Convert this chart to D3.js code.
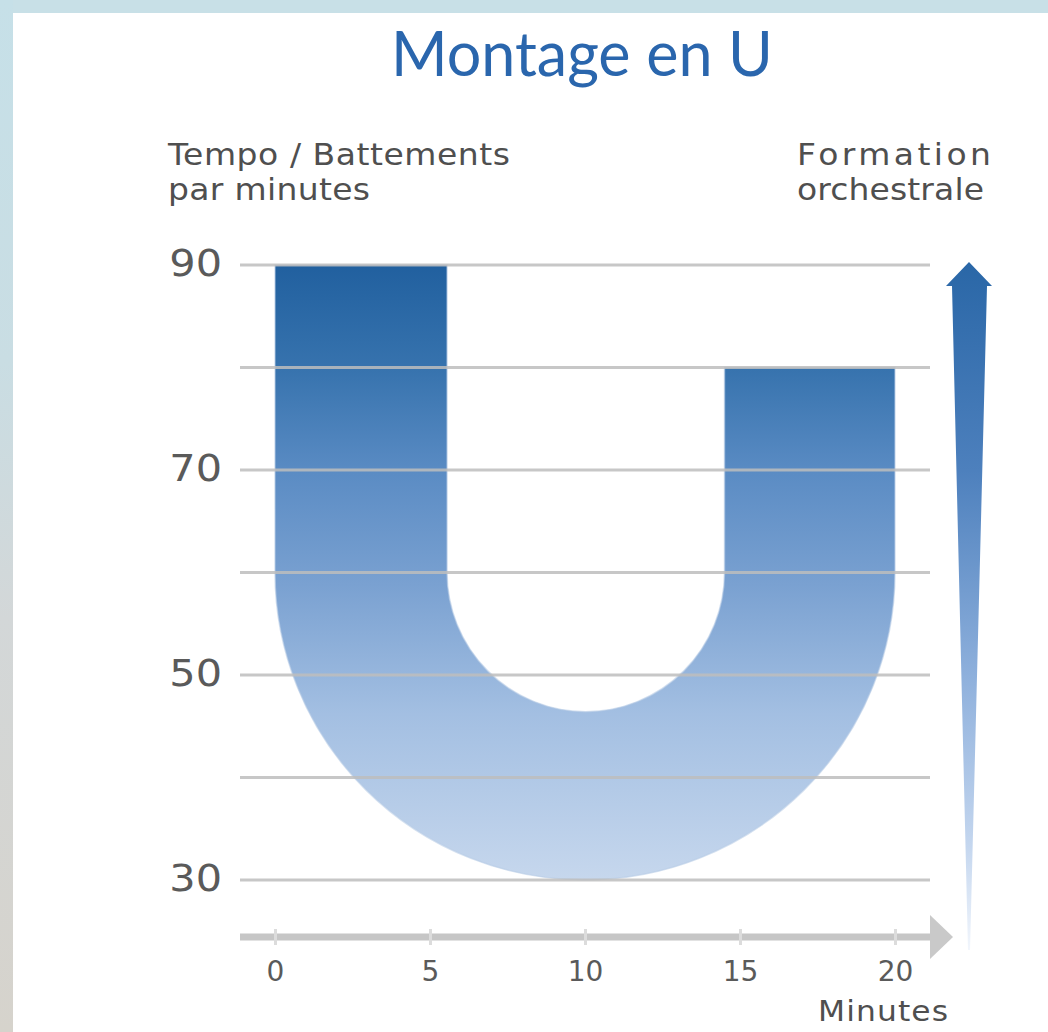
<!DOCTYPE html>
<html><head><meta charset="utf-8">
<script src="https://cdn.jsdelivr.net/npm/d3@7"></script>
<style>html,body{margin:0;padding:0;background:#fff;}svg{display:block;}</style>
</head><body>
<script>
// ---- data ----
const xTicks = [0, 5, 10, 15, 20];
const yLabelTicks = [30, 50, 70, 90];
const yGridTicks = [30, 40, 50, 60, 70, 80, 90];
const uLeftArm = [0, 5.55];     // minutes
const uRightArm = [14.5, 20];   // minutes
const uArmTops = [90, 80];      // tempo at start / end
const uBendLevel = 60;          // where the arms start curving
const uBottoms = [30, 46.5];    // outer / inner lowest tempo
const uCenter = 10;
const titleText = "Montage en U";
const yTitle = ["Tempo / Battements", "par minutes"];
const rTitle = ["Formation", "orchestrale"];
const xTitle = "Minutes";

const W = 1048, H = 1032;
const svg = d3.select("body").append("svg").attr("width", W).attr("height", H);
const defs = svg.append("defs");

// background frame
const bg = defs.append("linearGradient").attr("id","bgL").attr("x1",0).attr("y1",0).attr("x2",0).attr("y2",1);
bg.append("stop").attr("offset","0").attr("stop-color","#c6e0e8");
bg.append("stop").attr("offset","0.35").attr("stop-color","#c9dde3");
bg.append("stop").attr("offset","0.6").attr("stop-color","#d3d7d8");
bg.append("stop").attr("offset","1").attr("stop-color","#d6d3cc");
svg.append("rect").attr("width",W).attr("height",H).attr("fill","#c8e0e7");
svg.append("rect").attr("x",0).attr("y",0).attr("width",13).attr("height",H).attr("fill","url(#bgL)");
svg.append("rect").attr("x",13).attr("y",13).attr("width",W-13).attr("height",H-13).attr("fill","#ffffff");

const x = d3.scaleLinear().domain([0, 20]).range([275, 895]);
const y = d3.scaleLinear().domain([30, 90]).range([880, 265]);

// gradient for U
const g1 = defs.append("linearGradient").attr("id","uGrad").attr("gradientUnits","userSpaceOnUse")
  .attr("x1",0).attr("x2",0).attr("y1",y(90)).attr("y2",y(30));
[[0,"#21609f"],[0.17,"#3773ae"],[0.34,"#5b8cc4"],[0.52,"#7aa1d1"],[0.73,"#a3bfe2"],[1,"#c6d7ed"]]
  .forEach(([o,c])=>g1.append("stop").attr("offset",o).attr("stop-color",c));

// gradient for right arrow
const g2 = defs.append("linearGradient").attr("id","aGrad").attr("gradientUnits","userSpaceOnUse")
  .attr("x1",0).attr("x2",0).attr("y1",y(90)).attr("y2",950);
[[0,"#2a67a7"],[0.3,"#4d80bd"],[0.6,"#8eb0dc"],[0.85,"#c5d7ef"],[1,"#f2f6fc"]]
  .forEach(([o,c])=>g2.append("stop").attr("offset",o).attr("stop-color",c));

// U shape
const rxO = x(uCenter) - x(uLeftArm[0]);
const ryO = y(uBottoms[0]) - y(uBendLevel);
const rxI = x(uCenter) - x(uLeftArm[1]);
const ryI = y(uBottoms[1]) - y(uBendLevel);
const uPath = [
  `M${x(uLeftArm[0])},${y(uArmTops[0])}`,
  `L${x(uLeftArm[1])},${y(uArmTops[0])}`,
  `L${x(uLeftArm[1])},${y(uBendLevel)}`,
  `A${rxI},${ryI} 0 0 0 ${x(uRightArm[0])},${y(uBendLevel)}`,
  `L${x(uRightArm[0])},${y(uArmTops[1])}`,
  `L${x(uRightArm[1])},${y(uArmTops[1])}`,
  `L${x(uRightArm[1])},${y(uBendLevel)}`,
  `A${rxO},${ryO} 0 0 1 ${x(uLeftArm[0])},${y(uBendLevel)}`,
  "Z"].join(" ");
svg.append("path").attr("d",uPath).attr("fill","url(#uGrad)")
  .attr("stroke","#b9cde6").attr("stroke-width",1.5).attr("stroke-opacity",0.6);

// gridlines (drawn over the shape)
svg.append("g").selectAll("line").data(yGridTicks).join("line")
  .attr("x1",240).attr("x2",930).attr("y1",d=>y(d)).attr("y2",d=>y(d))
  .attr("stroke","#bdbdbd").attr("stroke-width",3).attr("stroke-opacity",0.85);

// y labels
svg.append("g").selectAll("text").data(yLabelTicks).join("text")
  .attr("transform",d=>`translate(222,${y(d)-2}) scale(1.12,1)`).attr("dy","0.36em").attr("text-anchor","end")
  .attr("font-family","DejaVu Sans, sans-serif").attr("font-size",37).attr("fill","#5a5a5a")
  .text(d=>d);

// x axis (gray arrow)
const axY = 937;
svg.append("line").attr("x1",240).attr("x2",932).attr("y1",axY).attr("y2",axY)
  .attr("stroke","#c6c6c6").attr("stroke-width",7);
svg.append("path").attr("d",`M930,${axY-22} L953,${axY} L930,${axY+22} Z`).attr("fill","#c9c9c9");
const xAxis = d3.axisBottom(x).tickValues(xTicks).tickSize(0).tickPadding(0);
const xg = svg.append("g").attr("transform",`translate(0,${axY})`).call(xAxis);
xg.select(".domain").remove();
xg.selectAll(".tick line").attr("y1",-8).attr("y2",8).attr("stroke","#dcdcdc").attr("stroke-width",3);
xg.selectAll(".tick text").attr("y",34).attr("dy","0.36em")
  .attr("font-family","DejaVu Sans, sans-serif").attr("font-size",28).attr("fill","#5a5a5a");
svg.append("text").attr("transform","translate(818,1021) scale(1.12,1)")
  .attr("font-family","DejaVu Sans, sans-serif").attr("font-size",28).attr("fill","#4f4f4f")
  .attr("textLength",130/1.12).attr("lengthAdjust","spacing").text(xTitle);

// right arrow
const aTop = y(90) - 3, headY = aTop + 24, cx = 969;
svg.append("path")
  .attr("d",`M${cx},${aTop} L${cx+23},${headY} L${cx+18},${headY} L${cx+1},950 L${cx-1},950 L${cx-17},${headY} L${cx-23},${headY} Z`)
  .attr("fill","url(#aGrad)");

// title
svg.append("text").attr("x",582).attr("y",76).attr("text-anchor","middle")
  .attr("font-family","Lato, sans-serif").attr("font-size",61).attr("fill","#2a66ad").text(titleText);

// axis titles
const sx = 1.1;
const yTitleW = [342, 202];
const rTitleW = [194, 187];
svg.append("text").attr("transform",`translate(168,0) scale(${sx},1)`)
  .attr("font-family","DejaVu Sans, sans-serif").attr("font-size",30).attr("fill","#4f4f4f")
  .selectAll("tspan").data(yTitle).join("tspan").attr("x",0).attr("y",(d,i)=>165+i*35)
  .attr("textLength",(d,i)=>yTitleW[i]/sx).attr("lengthAdjust","spacing").text(d=>d);
svg.append("text").attr("transform",`translate(797,0) scale(${sx},1)`)
  .attr("font-family","DejaVu Sans, sans-serif").attr("font-size",30).attr("fill","#4f4f4f")
  .selectAll("tspan").data(rTitle).join("tspan").attr("x",0).attr("y",(d,i)=>165+i*35)
  .attr("textLength",(d,i)=>rTitleW[i]/sx).attr("lengthAdjust","spacing").text(d=>d);
</script>
</body></html>
